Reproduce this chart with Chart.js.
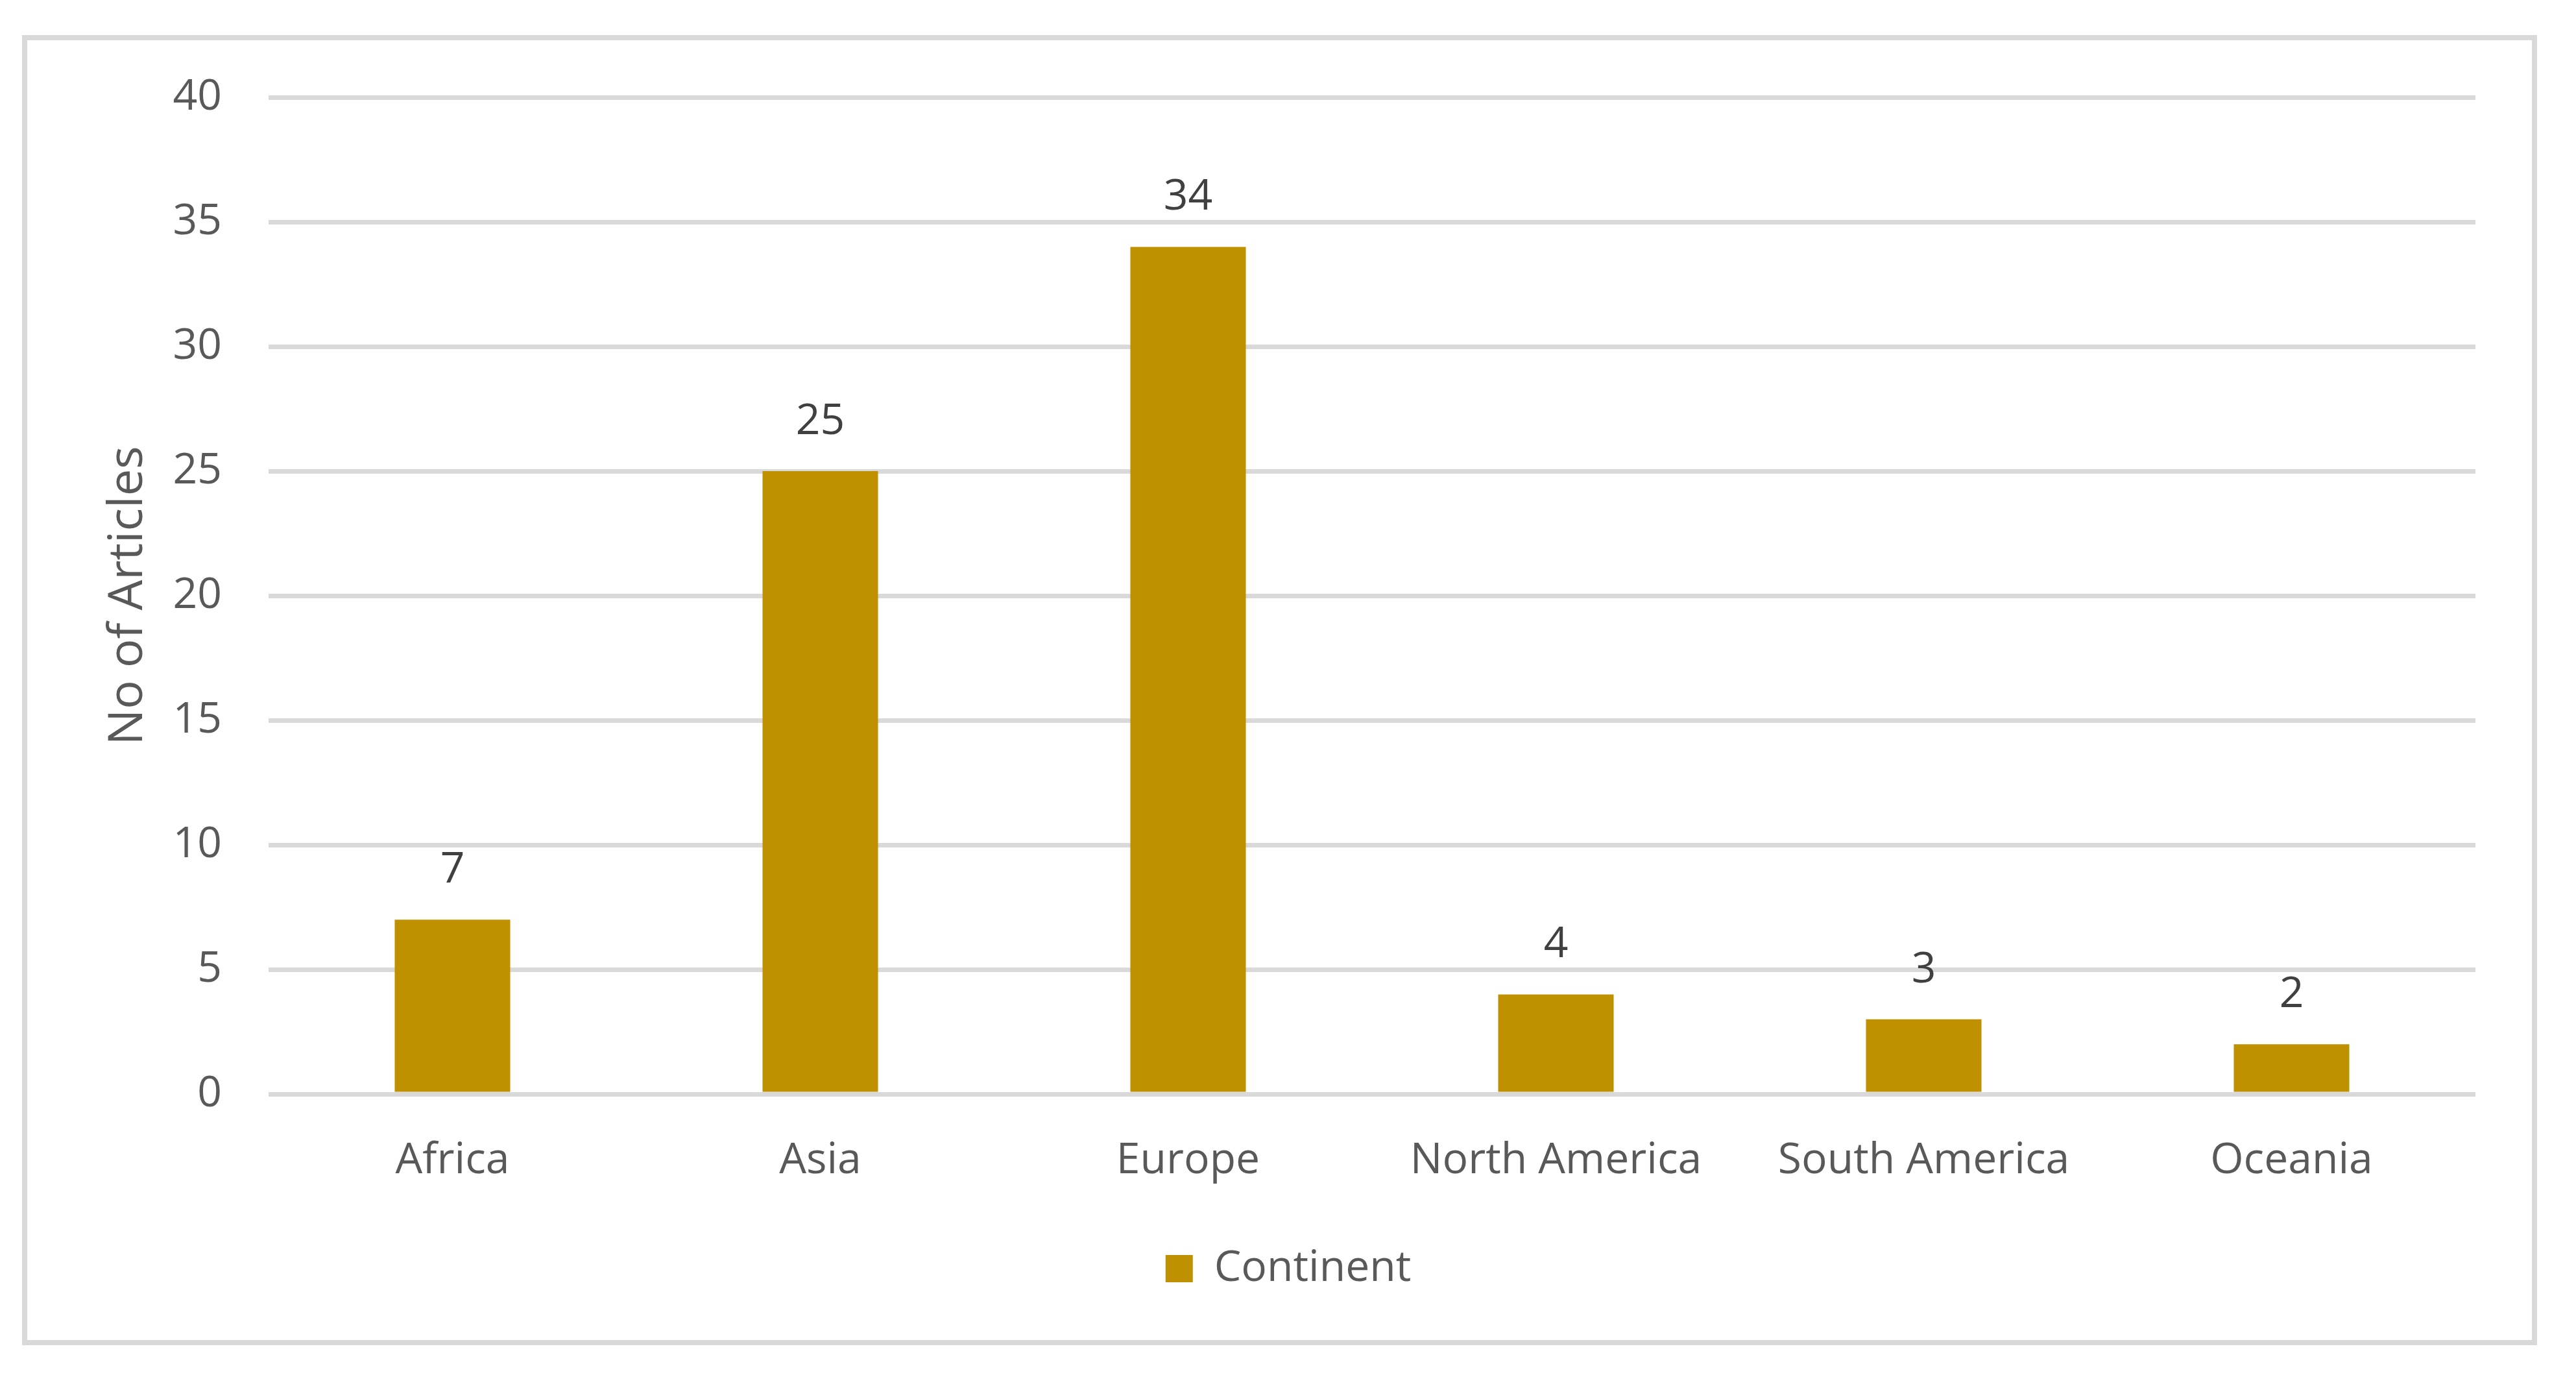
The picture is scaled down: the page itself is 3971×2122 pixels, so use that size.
<!DOCTYPE html>
<html>
<head>
<meta charset="utf-8">
<script src="https://cdn.jsdelivr.net/npm/chart.js@4/dist/chart.umd.min.js"></script>
<style>
    html, body { margin: 0; padding: 0; background: #fff; }
    #frame {
        position: absolute; left: 34px; top: 54px;
        width: 3877px; height: 2019px;
        box-sizing: border-box;
        border: 8px solid #d9d9d9;
    }
    #wrap { position: relative; width: 3861px; height: 2003px; }
</style>
</head>
<body>
<div id="frame"><div id="wrap"><canvas id="bar-chart"></canvas></div></div>
<script>
// data
var continents = ["Africa", "Asia", "Europe", "North America", "South America", "Oceania"]
var articles = [7, 25, 34, 4, 3, 2]
var yTicks = [0, 5, 10, 15, 20, 25, 30, 35, 40]

var gold = "#BF9000"
var font = "'Open Sans', 'DejaVu Sans', sans-serif"

// writes the value above each bar
var valueLabels = {
    id: "valueLabels",
    afterDatasetsDraw: function(chart) {
        var ctx = chart.ctx
        var meta = chart.getDatasetMeta(0)
        ctx.save()
        ctx.fillStyle = "#404040"
        ctx.font = "66px " + font
        ctx.textAlign = "center"
        ctx.textBaseline = "alphabetic"
        meta.data.forEach(function(bar, i) {
            ctx.fillText(String(articles[i]), bar.x, bar.y - 57)
        })
        ctx.restore()
    }
}

var ctx = document.getElementById("bar-chart").getContext("2d")
var chart = new Chart(ctx, {
    type: "bar",
    data: {
        labels: continents,
        datasets: [{
            label: "Continent",
            data: articles,
            backgroundColor: gold,
            borderWidth: 0,
            categoryPercentage: 1,
            barPercentage: 0.314
        }]
    },
    options: {
        responsive: true,
        maintainAspectRatio: false,
        animation: false,
        layout: { padding: { top: 88, right: 0, bottom: 67, left: 27 } },
        plugins: {
            tooltip: { enabled: false },
            legend: {
                position: "bottom",
                labels: {
                    color: "#595959",
                    font: { family: font, size: 66 },
                    boxWidth: 42,
                    boxHeight: 42,
                    padding: 20
                }
            }
        },
        scales: {
            x: {
                grid: { display: false, drawTicks: false },
                border: { display: false },
                ticks: {
                    color: "#595959",
                    font: { family: font, size: 66 },
                    padding: 64,
                    maxRotation: 0
                },
                afterFit: function(scale) { scale.height = 216 }
            },
            y: {
                min: 0,
                max: 40,
                afterBuildTicks: function(scale) {
                    scale.ticks = yTicks.map(function(v) { return { value: v } })
                },
                grid: { color: "#d9d9d9", lineWidth: 7, drawTicks: false },
                border: { display: false },
                ticks: {
                    color: "#595959",
                    font: { family: font, size: 66 },
                    padding: 72
                },
                title: {
                    display: true,
                    text: "No of Articles",
                    color: "#595959",
                    font: { family: font, size: 74 },
                    padding: { top: 85, bottom: 0 }
                },
                afterFit: function(scale) {
                    scale.width = 345
                    // tick padding would otherwise push the plot down
                    scale.paddingTop = 0
                    scale.paddingBottom = 0
                }
            },
            // empty right-hand space, keeps the plot clear of the frame
            y2: {
                position: "right",
                grid: { display: false, drawTicks: false },
                border: { display: false },
                ticks: { display: false },
                afterFit: function(scale) { scale.width = 87 }
            }
        }
    },
    plugins: [valueLabels]
})
</script>
</body>
</html>
